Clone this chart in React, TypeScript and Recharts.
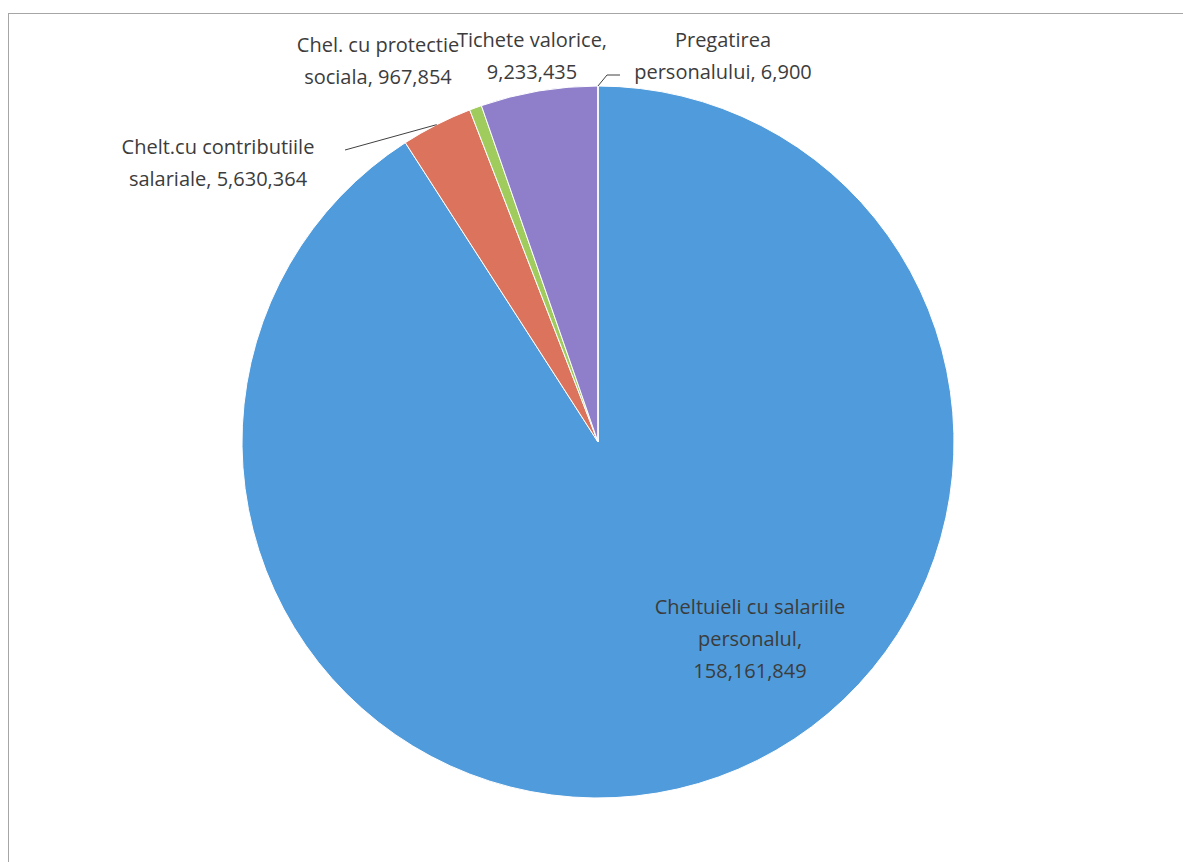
import { PieChart, Pie, Cell } from 'recharts';

const categories = [
  'Cheltuieli cu salariile personalul',
  'Chelt.cu contributiile salariale',
  'Chel. cu protectie sociala',
  'Tichete valorice',
  'Pregatirea personalului',
];
const values = [158161849, 5630364, 967854, 9233435, 6900];
const labelLines = [
  ['Cheltuieli cu salariile', 'personalul,'],
  ['Chelt.cu contributiile', 'salariale,'],
  ['Chel. cu protectie', 'sociala,'],
  ['Tichete valorice,'],
  ['Pregatirea', 'personalului,'],
];

const colors = ['#4f9bdb', '#dc735c', '#9fcc5c', '#8f7fca', '#4f9bdb'];

// label placement relative to pie centre (first line)
const labelPos = [
  { dx: 152, dy: 164, newLine: true },
  { dx: -380, dy: -296, newLine: false },
  { dx: -220, dy: -398, newLine: false },
  { dx: -66, dy: -403, newLine: true },
  { dx: 125, dy: -403, newLine: false },
];
const LINE_H = 32;

const data = categories.map((name, i) => ({ name, value: values[i] }));

const RAD = Math.PI / 180;
const fmt = (v: number) => v.toLocaleString('en-US');

const renderLabel = (props: any) => {
  const { cx, cy, index, value } = props;
  const pos = labelPos[index];
  const parts = [...labelLines[index]];
  if (pos.newLine) parts.push(fmt(value));
  else parts[parts.length - 1] = parts[parts.length - 1] + ' ' + fmt(value);
  return (
    <text
      key={`lbl-${index}`}
      x={cx + pos.dx}
      y={cy + pos.dy}
      textAnchor="middle"
      dominantBaseline="central"
      fill="#3c3c3c"
      fontSize={20}
      fontFamily="'Open Sans', sans-serif"
    >
      {parts.map((p, j) => (
        <tspan key={j} x={cx + pos.dx} y={cy + pos.dy + j * LINE_H}>
          {p}
        </tspan>
      ))}
    </text>
  );
};

const renderLine = (props: any) => {
  const { cx, cy, midAngle, outerRadius, index } = props;
  const sx = cx + outerRadius * Math.cos(-midAngle * RAD);
  const sy = cy + outerRadius * Math.sin(-midAngle * RAD);
  if (index === 1) {
    return (
      <path
        key={`ln-${index}`}
        d={`M${sx},${sy} L${cx - 253},${cy - 292}`}
        stroke="#404040"
        strokeWidth={1}
        fill="none"
      />
    );
  }
  if (index === 4) {
    return (
      <path
        key={`ln-${index}`}
        d={`M${sx},${sy} L${cx + 9},${cy - 367} L${cx + 22},${cy - 367}`}
        stroke="#404040"
        strokeWidth={1}
        fill="none"
      />
    );
  }
  return <g key={`ln-${index}`} />;
};

export default function App() {
  return (
    <div style={{ position: 'relative', width: 1183, height: 862, overflow: 'hidden', background: '#fff' }}>
      <style>{'body{margin:0;}'}</style>
      <div
        style={{
          position: 'absolute',
          top: 13,
          left: 8,
          width: 1200,
          height: 900,
          border: '1px solid #a6a6a6',
          boxSizing: 'border-box',
        }}
      />
      <div style={{ position: 'absolute', top: 0, left: 0 }}>
        <PieChart width={1183} height={862} margin={{ top: 0, right: 0, bottom: 0, left: 0 }}>
          <Pie
            data={data}
            dataKey="value"
            nameKey="name"
            cx={598}
            cy={442}
            outerRadius={356}
            startAngle={90}
            endAngle={-270}
            stroke="#ffffff"
            strokeWidth={1}
            label={renderLabel}
            labelLine={renderLine}
            isAnimationActive={false}
          >
            {data.map((d, i) => (
              <Cell key={d.name} fill={colors[i]} />
            ))}
          </Pie>
        </PieChart>
      </div>
    </div>
  );
}
